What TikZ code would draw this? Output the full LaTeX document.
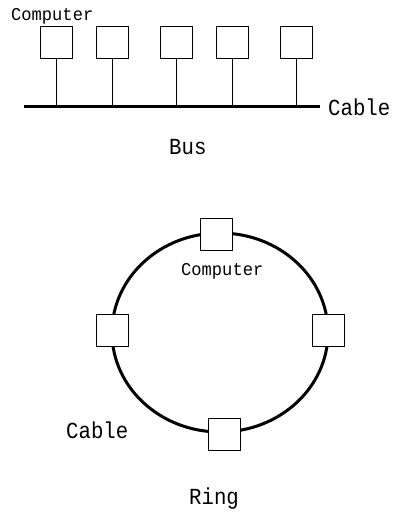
\documentclass[tikz,border=0pt]{standalone}
\usepackage{fontspec}
\newfontfamily\labfont[FakeStretch=0.9]{Liberation Mono}
\newfontfamily\smlabfont[FakeStretch=0.95]{Liberation Mono}
\tikzset{
  comp/.style={draw=black, fill=white, line width=0.8pt, minimum width=32pt, minimum height=32pt, inner sep=0pt},
  drop/.style={line width=0.8pt},
  cablewire/.style={line width=3pt},
  biglab/.style={anchor=base west, inner sep=0pt, font=\labfont\fontsize{23}{23}\selectfont},
  smalllab/.style={anchor=base west, inner sep=0pt, font=\smlabfont\fontsize{18}{18}\selectfont},
}
\begin{document}
\begin{tikzpicture}[x=1pt,y=-1pt]
\useasboundingbox (0,0) rectangle (393,512);
% ---------- Bus ----------
\coordinate (busL) at (24,106.7);
\coordinate (busR) at (320,106.7);
\node[comp] (c1) at (56.3,42.3) {};
\node[comp] (c2) at (112.3,42.3) {};
\node[comp] (c3) at (176.3,42.3) {};
\node[comp] (c4) at (232.3,42.3) {};
\node[comp] (c5) at (296.3,42.3) {};
\foreach \i in {1,...,5} {
  \draw[drop] (c\i.south) -- (c\i.south |- busL);
}
\draw[cablewire] (busL) -- (busR);
\node[smalllab] (tcomp1) at (11,20) {Computer};
\node[biglab] (tcable1) at (328,115) {Cable};
\node[biglab] (tbus) at (169,154) {Bus};
% ---------- Ring ----------
\draw[cablewire] (220,332.5) ellipse [x radius=108, y radius=99.5];
\node[comp] (r1) at (216.3,234.5) {};
\node[comp] (r2) at (112.2,330.5) {};
\node[comp] (r3) at (328.2,330.5) {};
\node[comp] (r4) at (224.5,434.5) {};
\node[smalllab] (tcomp2) at (181,275.7) {Computer};
\node[biglab] (tcable2) at (66,438.3) {Cable};
\node[biglab] (tring) at (189,504) {Ring};
\end{tikzpicture}
\end{document}
